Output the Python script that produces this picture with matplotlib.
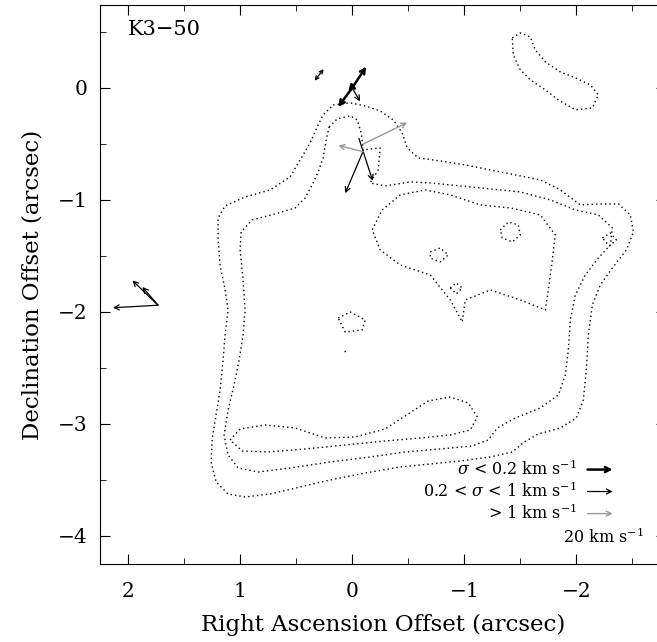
import matplotlib
matplotlib.use("Agg")
import matplotlib.pyplot as plt
import numpy as np

plt.rcParams['font.family'] = 'DejaVu Serif'
plt.rcParams['mathtext.fontset'] = 'dejavuserif'

X0, Y0, PIX = 352.0, 88.0, 112.0

def pts(p):
	a = np.array(p, dtype=float)
	return (X0 - a[:, 0]) / PIX, (Y0 - a[:, 1]) / PIX

outer = [(333,105),(350,103),(365,106),(380,111),(393,120),(402,133),(407,148),(418,158),(440,161),(465,165),(490,170),(515,175),(540,180),(560,190),(580,205),(600,204),(618,204),(630,215),(633,232),(626,250),(612,268),(600,285),(592,305),(588,335),(586,370),(583,400),(576,418),(560,428),(538,434),(524,442),(512,452),(490,457),(460,461),(430,464),(400,467),(365,473),(330,480),(300,487),(270,494),(245,497),(228,494),(216,482),(211,462),(212,440),(216,415),(220,390),(223,360),(225,335),(228,310),(225,290),(220,265),(218,240),(218,218),(225,206),(245,197),(270,190),(290,177),(300,160),(310,143),(317,127),(323,115),(333,105)]
middle = [(329,127),(337,119),(350,116),(357,120),(361,133),(363,150),(380,148),(378,170),(370,183),(385,186),(410,182),(430,183),(460,186),(490,189),(520,192),(550,200),(575,210),(598,215),(612,228),(610,245),(598,258),(585,275),(575,295),(570,320),(568,350),(565,375),(558,395),(540,408),(515,418),(497,428),(488,440),(472,446),(440,449),(405,452),(370,457),(330,462),(290,468),(258,472),(238,468),(228,455),(224,435),(228,410),(234,385),(239,360),(243,335),(245,310),(243,280),(240,250),(241,232),(252,220),(275,214),(295,208),(305,198),(312,185),(318,172),(323,158),(326,140),(329,127)]
island = [(512,38),(520,33),(530,37),(535,50),(545,62),(560,72),(575,78),(590,85),(598,95),(592,108),(575,110),(558,100),(545,90),(530,80),(520,70),(513,55),(512,38)]
inner_top = [(382,210),(400,195),(425,190),(450,195),(480,205),(510,208),(540,215),(555,235),(552,260),(548,290),(545,310),(520,300),(490,290),(465,300),(462,322),(450,300),(430,275),(400,265),(380,250),(372,230),(382,210)]
inner_bot = [(230,440),(240,429),(265,425),(295,428),(325,438),(355,437),(385,429),(408,414),(428,401),(450,397),(468,403),(477,417),(470,430),(450,435),(420,438),(385,441),(345,445),(305,449),(268,452),(242,451),(230,440)]
spots = [
	[(500,230),(508,222),(518,225),(520,235),(512,242),(502,238),(500,230)],
	[(430,252),(440,248),(448,255),(440,262),(430,258),(430,252)],
	[(450,288),(456,283),(462,288),(456,294),(450,288)],
	[(602,238),(610,233),(616,240),(609,246),(602,238)],
	[(338,318),(350,312),(365,320),(362,330),(345,332),(338,318)],
	[(344,351),(347,351)],
]

# proper motion vectors: start (arcsec), components (km/s, +x = east = left)
pm_strong_x0 = [0.0, 0.0, 0.0]
pm_strong_y0 = [0.0, 0.0, 0.0]
pm_strong_vx = [-11.2, 11.2, 1.0]
pm_strong_vy = [17.0, -15.2, 5.0]

pm_mid_x0 = [0.0, -0.06, -0.10, 1.732, 1.732, 1.732]
pm_mid_y0 = [0.0, -0.45, -0.56, -1.94, -1.94, -1.94]
pm_mid_vx = [-6.3, -11.0, 14.5, 36.0, 20.5, 12.5]
pm_mid_vy = [-10.8, -34.0, -34.0, -2.0, 19.8, 14.6]

# small two-sided vector north-east of the star
pm_pair_x0 = [0.295]
pm_pair_y0 = [0.116]
pm_pair_vx = [-3.6]
pm_pair_vy = [4.6]

pm_weak_x0 = [-0.10, -0.10]
pm_weak_y0 = [-0.50, -0.57]
pm_weak_vx = [-35.0, 20.0]
pm_weak_vy = [17.0, 5.0]

KMS_PER_ARCSEC = 89.6

fig = plt.figure(figsize=(6.57, 6.42), dpi=100)
ax = fig.add_axes([100/657, 1 - 564/642, 566/657, 559/642])
ax.set_xlim(2.25, -2.80)
ax.set_ylim(-4.25, 0.74)

for c in [outer, middle, island, inner_top, inner_bot] + spots:
	x, y = pts(c)
	ax.plot(x, y, color='black', linestyle=(0, (1, 2.2)), linewidth=1.0)

def arrows(x0, y0, vx, vy, color, lw, style='->,head_length=0.35,head_width=0.18'):
	for a, b, u, v in zip(x0, y0, vx, vy):
		ax.annotate('', xy=(a + u / KMS_PER_ARCSEC, b + v / KMS_PER_ARCSEC), xytext=(a, b),
			arrowprops=dict(arrowstyle=style, color=color, lw=lw, shrinkA=0, shrinkB=0))

arrows(pm_strong_x0, pm_strong_y0, pm_strong_vx, pm_strong_vy, 'black', 1.8)
arrows(pm_mid_x0, pm_mid_y0, pm_mid_vx, pm_mid_vy, 'black', 0.9)
arrows([a - u / KMS_PER_ARCSEC for a, u in zip(pm_pair_x0, pm_pair_vx)],
	[b - v / KMS_PER_ARCSEC for b, v in zip(pm_pair_y0, pm_pair_vy)],
	[2 * u for u in pm_pair_vx], [2 * v for v in pm_pair_vy], 'black', 0.9,
	'<->,head_length=0.25,head_width=0.13')
arrows(pm_weak_x0, pm_weak_y0, pm_weak_vx, pm_weak_vy, '#999999', 1.0)

# legend of arrows
leg_text = [r'$\sigma$ < 0.2 km s$^{-1}$', r'0.2 < $\sigma$ < 1 km s$^{-1}$', r'> 1 km s$^{-1}$']
leg_col = ['black', 'black', '#999999']
leg_lw = [1.8, 0.9, 1.0]
leg_y = [-3.407, -3.603, -3.80]
for t, c, w, yy in zip(leg_text, leg_col, leg_lw, leg_y):
	ax.text(-2.005, yy, t, ha='right', va='center', fontsize=11.5)
	ax.annotate('', xy=(-2.10 - 20 / KMS_PER_ARCSEC, yy), xytext=(-2.10, yy),
		arrowprops=dict(arrowstyle='->,head_length=0.35,head_width=0.18', color=c, lw=w, shrinkA=0, shrinkB=0))
ax.text(-1.88, -4.01, r'20 km s$^{-1}$', ha='left', va='center', fontsize=11.5)

ax.text(2.0, 0.52, 'K3\u221250', fontsize=15, va='center')

ax.set_xticks([2, 1, 0, -1, -2])
ax.set_xticks(np.arange(-2.5, 2.5, 0.5), minor=True)
ax.set_yticks([0, -1, -2, -3, -4])
ax.set_yticks(np.arange(-4.0, 0.6, 0.5), minor=True)
ax.tick_params(which='both', direction='in', top=True, right=True, labelsize=14.5)
ax.tick_params(axis='x', which='both', pad=13)
ax.tick_params(axis='y', which='both', pad=9)
ax.tick_params(which='major', length=7)
ax.tick_params(which='minor', length=4)
ax.set_xlabel('Right Ascension Offset (arcsec)', fontsize=16.5, labelpad=9)
ax.set_ylabel('Declination Offset (arcsec)', fontsize=16.5, labelpad=10)

fig.savefig('out.png', dpi=100)
